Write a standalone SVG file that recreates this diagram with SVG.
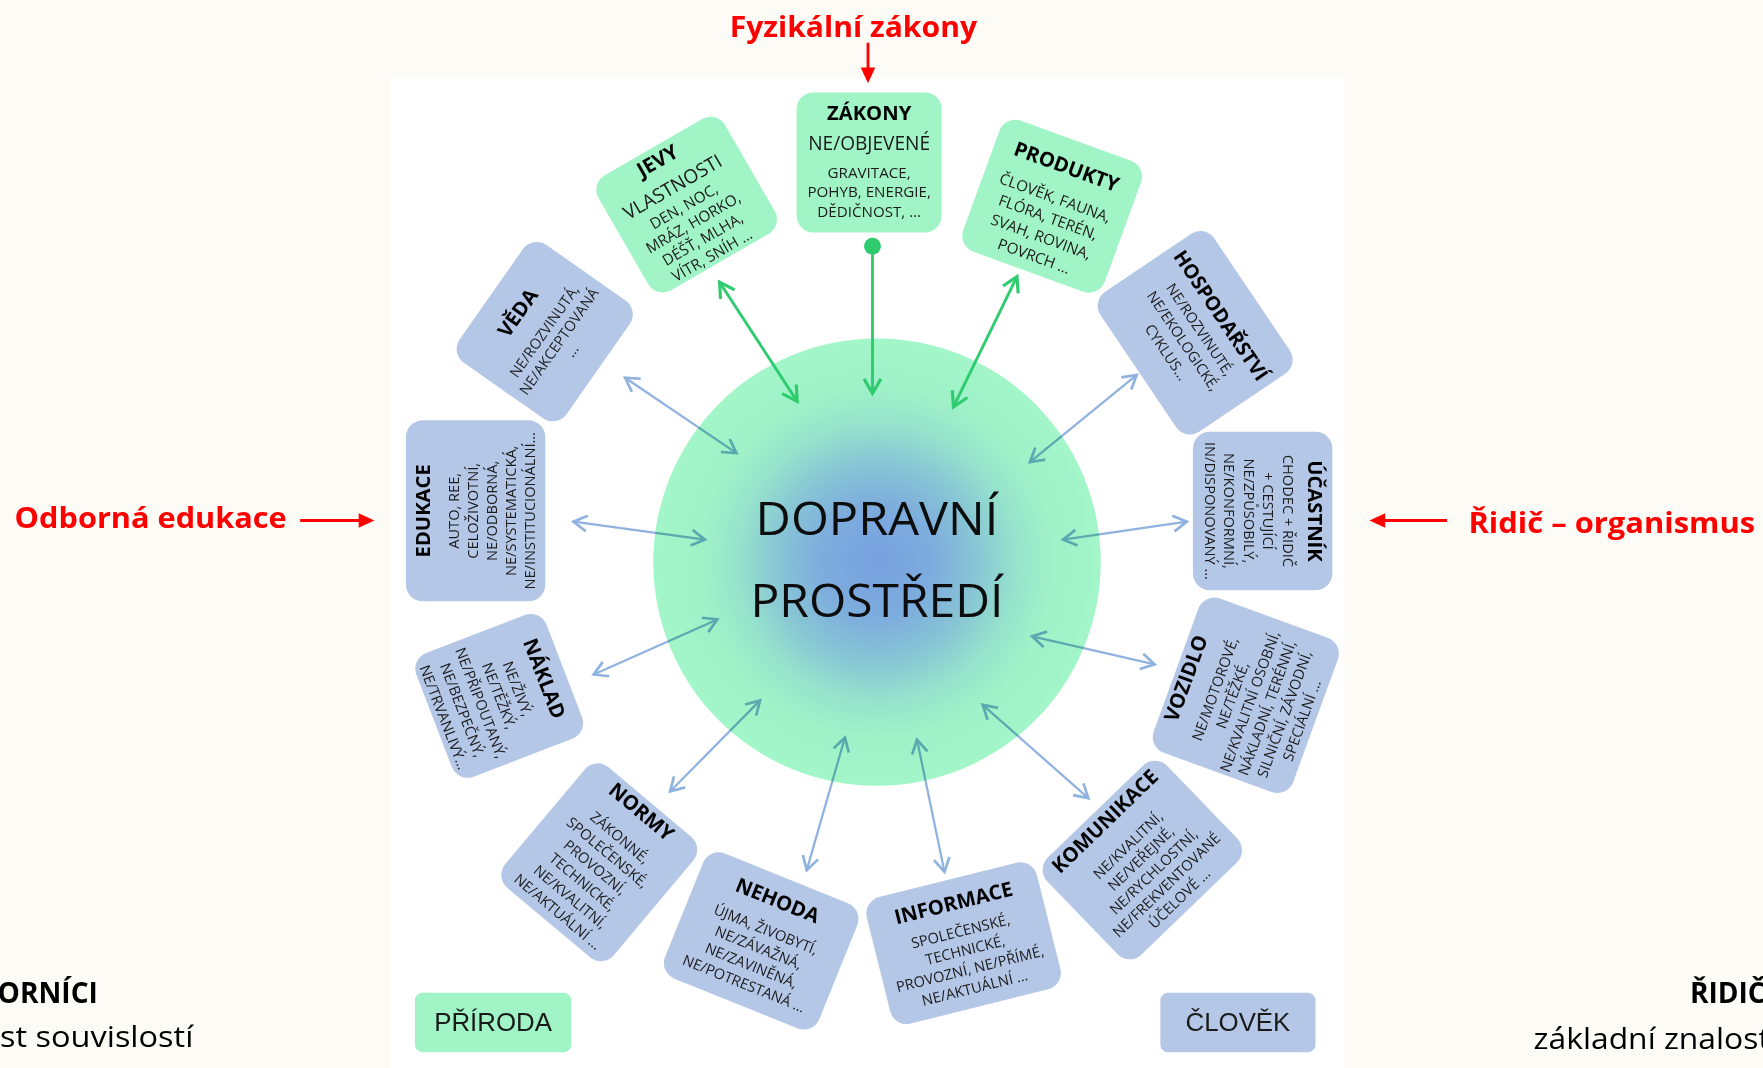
<svg xmlns="http://www.w3.org/2000/svg" width="1763" height="1068" viewBox="0 0 1763 1068">
<style>
text { font-family: 'Open Sans', 'Noto Sans', 'DejaVu Sans', sans-serif; }
.bb { fill: #b4c7e7; }
.bg { fill: #a0f4c6; }
.n text { text-anchor: middle; }
.h { font-weight: 700; font-size: 18px; fill: #000; }
.h2 { font-weight: 700; font-size: 17.5px; fill: #000; }
.m { font-size: 17px; fill: #1a1a1a; }
.s { font-size: 13px; fill: #1c1c1c; }
.sg { font-size: 13.5px; fill: #1c1c1c; }
.red { font-weight: 700; font-size: 25px; fill: #ff0000; }
.cornb { font-weight: 700; font-size: 25px; fill: #000; }
.corn { font-size: 26px; fill: #000; }
.center { font-size: 41px; fill: #0d0d0d; text-anchor: middle; }
.leg { font-family: 'Liberation Sans', Arial, sans-serif; font-size: 23px; fill: #1a1a1a; text-anchor: middle; }
.cb { fill: none; stroke: #90b2df; stroke-width: 2; marker-start: url(#ab); marker-end: url(#ab); }
.cg { fill: none; stroke: #2ecc6e; stroke-width: 2.6; }
.cr { fill: none; stroke: #ff0000; stroke-width: 2.5; marker-end: url(#ar); }
</style>
<defs>
<radialGradient id="envGrad" cx="780" cy="500" r="199" gradientUnits="userSpaceOnUse">
<stop offset="0" stop-color="#77a1e0"/>
<stop offset="0.25" stop-color="#7dacdd"/>
<stop offset="0.45" stop-color="#88c6d5"/>
<stop offset="0.62" stop-color="#96e2cc"/>
<stop offset="0.78" stop-color="#9ff1c8"/>
<stop offset="1" stop-color="#a2f6c8"/>
</radialGradient>
<marker id="ab" viewBox="-16 -10 20 20" refX="0" refY="0" markerWidth="20" markerHeight="20" markerUnits="userSpaceOnUse" orient="auto-start-reverse">
<path d="M-12,-7 L0,0 L-12,7" fill="none" stroke="#90b2df" stroke-width="2.4"/>
</marker>
<marker id="ag" viewBox="-16 -10 20 20" refX="0" refY="0" markerWidth="20" markerHeight="20" markerUnits="userSpaceOnUse" orient="auto-start-reverse">
<path d="M-13,-7.5 L0,0 L-13,7.5" fill="none" stroke="#2ecc6e" stroke-width="2.8"/>
</marker>
<marker id="ar" viewBox="-16 -8 18 16" refX="-4" refY="0" markerWidth="18" markerHeight="16" markerUnits="userSpaceOnUse" orient="auto">
<path d="M-14,-6.5 L0,0 L-14,6.5 Z" fill="#ff0000"/>
</marker>
<marker id="dot" viewBox="-9 -9 18 18" refX="0" refY="0" markerWidth="18" markerHeight="18" markerUnits="userSpaceOnUse">
<circle r="7.5" fill="#2ecc6e"/>
</marker>
</defs>

<rect x="0" y="0" width="1763" height="1068" fill="#fcfbf6"/>

<g transform="scale(1.12436 1.12421)">
<rect x="347" y="69.4" width="849" height="881" fill="#ffffff"/>

<g id="annotations">
<text class="red" x="759" y="33" text-anchor="middle" textLength="220" lengthAdjust="spacingAndGlyphs">Fyzikální zákony</text>
<text class="red" x="13" y="470" textLength="242" lengthAdjust="spacingAndGlyphs">Odborná edukace</text>
<text class="red" x="1306" y="474" textLength="255" lengthAdjust="spacingAndGlyphs">Řidič – organismus</text>
<text class="cornb" x="87" y="892" text-anchor="end">ORNÍCI</text>
<text class="corn" x="172" y="931" text-anchor="end" textLength="172" lengthAdjust="spacingAndGlyphs">st souvislostí</text>
<text class="cornb" x="1503" y="892">ŘIDIČ</text>
<text class="corn" x="1364" y="933" textLength="210" lengthAdjust="spacingAndGlyphs">základní znalost</text>
</g>

<g id="node-center">
<circle cx="780" cy="500" r="199" fill="url(#envGrad)"/>
<text class="center" x="780" y="476" textLength="216" lengthAdjust="spacingAndGlyphs">DOPRAVNÍ</text>
<text class="center" x="780" y="548.5" textLength="225" lengthAdjust="spacingAndGlyphs">PROSTŘEDÍ</text>
</g>

<g id="connectors">
<g id="connectors-human" style="mix-blend-mode:multiply">
<path class="cb" d="M556,336 L655,403"/>
<path class="cb" d="M510,464 L627,480"/>
<path class="cb" d="M528,600 L638,551"/>
<path class="cb" d="M596,704 L676,623"/>
<path class="cb" d="M717.5,774 L751.5,656"/>
<path class="cb" d="M840,775.5 L815.6,658"/>
<path class="cb" d="M968,710 L874,627"/>
<path class="cb" d="M1027,591 L918,566"/>
<path class="cb" d="M1055.5,464 L945.5,480"/>
<path class="cb" d="M1011,333.5 L916,411"/>
</g>
<g id="connectors-nature">
<path class="cg" d="M640,251 L709,357" marker-start="url(#ag)" marker-end="url(#ag)"/>
<path class="cg" d="M904.5,246 L848,362" marker-start="url(#ag)" marker-end="url(#ag)"/>
<path class="cg" d="M776,219 L776,350" marker-start="url(#dot)" marker-end="url(#ag)"/>
</g>
<g id="connectors-annotation">
<path class="cr" d="M772,38 L772,70"/>
<path class="cr" d="M267,463 L329,463"/>
<path class="cr" d="M1287,463 L1222,463"/>
</g>
</g>

<g id="node-zakony" class="n" transform="translate(773,144.5)">
<rect class="bg" x="-64.5" y="-62.3" width="129" height="124.6" rx="15"/>
<text class="h" y="-38">ZÁKONY</text>
<text class="m" y="-11">NE/OBJEVENÉ</text>
<text class="sg" y="14">GRAVITACE,</text>
<text class="sg" y="31">POHYB, ENERGIE,</text>
<text class="sg" y="48.5">DĚDIČNOST, …</text>
</g>

<g id="node-jevy" class="n" transform="translate(610.7,182) rotate(-30)">
<rect class="bg" x="-65" y="-59" width="130" height="118" rx="15"/>
<text class="h" x="-3" y="-40.6">JEVY</text>
<text class="m" x="-3" y="-14">VLASTNOSTI</text>
<text class="sg" x="-3" y="4.8">DEN, NOC,</text>
<text class="sg" x="-3" y="21.6">MRÁZ, HORKO,</text>
<text class="sg" x="-3" y="38.4">DÉŠŤ, MLHA,</text>
<text class="sg" x="-3" y="55">VÍTR, SNÍH …</text>
</g>

<g id="node-produkty" class="n" transform="translate(935.8,183.4) rotate(20)">
<rect class="bg" x="-67" y="-62" width="134" height="124" rx="15"/>
<text class="h" y="-31.2">PRODUKTY</text>
<text class="sg" y="-3.2">ČLOVĚK, FAUNA,</text>
<text class="sg" y="15.2">FLÓRA, TERÉN,</text>
<text class="sg" y="33.6">SVAH, ROVINA,</text>
<text class="sg" y="52">POVRCH …</text>
</g>

<g id="node-veda" class="n" transform="translate(484.5,295) rotate(-55)">
<rect class="bb" x="-64" y="-58" width="128" height="116" rx="15"/>
<text class="h" y="-23">VĚDA</text>
<text class="s" y="4">NE/ROZVINUTÁ,</text>
<text class="s" y="20">NE/AKCEPTOVANÁ</text>
<text class="s" y="34">…</text>
</g>

<g id="node-edukace" class="n" transform="translate(423,454.4) rotate(-90)">
<rect class="bb" x="-80.5" y="-62" width="161" height="124" rx="15"/>
<text class="h" y="-40.2">EDUKACE</text>
<text class="s" y="-14.5">AUTO, REE,</text>
<text class="s" y="2.3">CELOŽIVOTNÍ,</text>
<text class="s" y="19.1">NE/ODBORNÁ,</text>
<text class="s" y="35.9">NE/SYSTEMATICKÁ,</text>
<text class="s" y="52.7">NE/INSTITUCIONÁLNÍ…</text>
</g>

<g id="node-naklad" class="n" transform="translate(444,619) rotate(69)">
<rect class="bb" x="-59" y="-62" width="118" height="124" rx="15"/>
<text class="h" y="-36.8">NÁKLAD</text>
<text class="s" y="-13">NE/ŽIVÝ,</text>
<text class="s" y="4.6">NE/TĚŽKÝ,</text>
<text class="s" y="22.2">NE/PŘIPOUTANÝ,</text>
<text class="s" y="39.8">NE/BEZPEČNÝ,</text>
<text class="s" y="57.4">NE/TRVANLIVÝ…</text>
</g>

<g id="node-normy" class="n" transform="translate(533,767) rotate(40)">
<rect class="bb" x="-63" y="-70" width="126" height="140" rx="15"/>
<text class="h" y="-52.3">NORMY</text>
<text class="s" y="-24">ZÁKONNÉ,</text>
<text class="s" y="-6.8">SPOLEČENSKÉ,</text>
<text class="s" y="10.4">PROVOZNÍ,</text>
<text class="s" y="27.6">TECHNICKÉ,</text>
<text class="s" y="44.8">NE/KVALITNÍ,</text>
<text class="s" y="62">NE/AKTUÁLNÍ …</text>
</g>

<g id="node-nehoda" class="n" transform="translate(677,837) rotate(22)">
<rect class="bb" x="-74" y="-60" width="148" height="120" rx="15"/>
<text class="h" y="-32.6">NEHODA</text>
<text class="s" y="-6.4">ÚJMA, ŽIVOBYTÍ,</text>
<text class="s" y="10.9">NE/ZÁVAŽNÁ,</text>
<text class="s" y="28.2">NE/ZAVINĚNÁ,</text>
<text class="s" y="45.5">NE/POTRESTANÁ …</text>
</g>

<g id="node-informace" class="n" transform="translate(857,839) rotate(-14)">
<rect class="bb" x="-78" y="-58" width="156" height="116" rx="15"/>
<text class="h" y="-30.6">INFORMACE</text>
<text class="s" y="-6.4">SPOLEČENSKÉ,</text>
<text class="s" y="10.9">TECHNICKÉ,</text>
<text class="s" y="28.2">PROVOZNÍ, NE/PŘÍMÉ,</text>
<text class="s" y="45.5">NE/AKTUÁLNÍ …</text>
</g>

<g id="node-komunikace" class="n" transform="translate(1016,765) rotate(-44)">
<rect class="bb" x="-74" y="-60" width="148" height="120" rx="15"/>
<text class="h" y="-41.6">KOMUNIKACE</text>
<text class="s" y="-13.7">NE/KVALITNÍ,</text>
<text class="s" y="2.7">NE/VEŘEJNÉ,</text>
<text class="s" y="19.1">NE/RYCHLOSTNÍ,</text>
<text class="s" y="35.5">NE/FREKVENTOVANÉ</text>
<text class="s" y="51.9">ÚČELOVÉ …</text>
</g>

<g id="node-vozidlo" class="n" transform="translate(1108,618.5) rotate(-70)">
<rect class="bb" x="-73" y="-66" width="146" height="132" rx="15"/>
<text class="h" x="-4" y="-49">VOZIDLO</text>
<text class="s" x="-4" y="-23">NE/MOTOROVÉ,</text>
<text class="s" x="-4" y="-6.6">NE/TĚŽKÉ,</text>
<text class="s" x="-4" y="9.8">NE/KVALITNÍ OSOBNÍ,</text>
<text class="s" x="-4" y="26.2">NÁKLADNÍ, TERÉNNÍ,</text>
<text class="s" x="-4" y="42.6">SILNIČNÍ, ZÁVODNÍ,</text>
<text class="s" x="-4" y="59">SPECIÁLNÍ …</text>
</g>

<g id="node-ucastnik" class="n" transform="translate(1123,454.5) rotate(90)">
<rect class="bb" x="-70.5" y="-62" width="141" height="124" rx="15"/>
<text class="h" y="-40.2">ÚČASTNÍK</text>
<text class="s" y="-18.1">CHODEC + ŘIDIČ</text>
<text class="s" y="-0.7">+ CESTUJÍCÍ</text>
<text class="s" y="16.7">NE/ZPŮSOBILÝ,</text>
<text class="s" y="34.1">NE/KONFORMNÍ,</text>
<text class="s" y="51.5">IN/DISPONOVANÝ …</text>
</g>

<g id="node-hospodarstvi" class="n" transform="translate(1063,296) rotate(56)">
<rect class="bb" x="-75" y="-61" width="150" height="122" rx="15"/>
<text class="h2" y="-21.5">HOSPODAŘSTVÍ</text>
<text class="s" y="-0.5">NE/ROZVINUTÉ,</text>
<text class="s" y="17.5">NE/EKOLOGICKÉ,</text>
<text class="s" y="35.5">CYKLUS…</text>
</g>

<g id="legend-priroda">
<rect class="bg" x="369" y="883" width="139" height="53" rx="7"/>
<text class="leg" x="438.5" y="917.5">PŘÍRODA</text>
</g>
<g id="legend-clovek">
<rect class="bb" x="1032" y="883" width="138" height="53" rx="7"/>
<text class="leg" x="1101" y="917.5">ČLOVĚK</text>
</g>
</g>
</svg>
